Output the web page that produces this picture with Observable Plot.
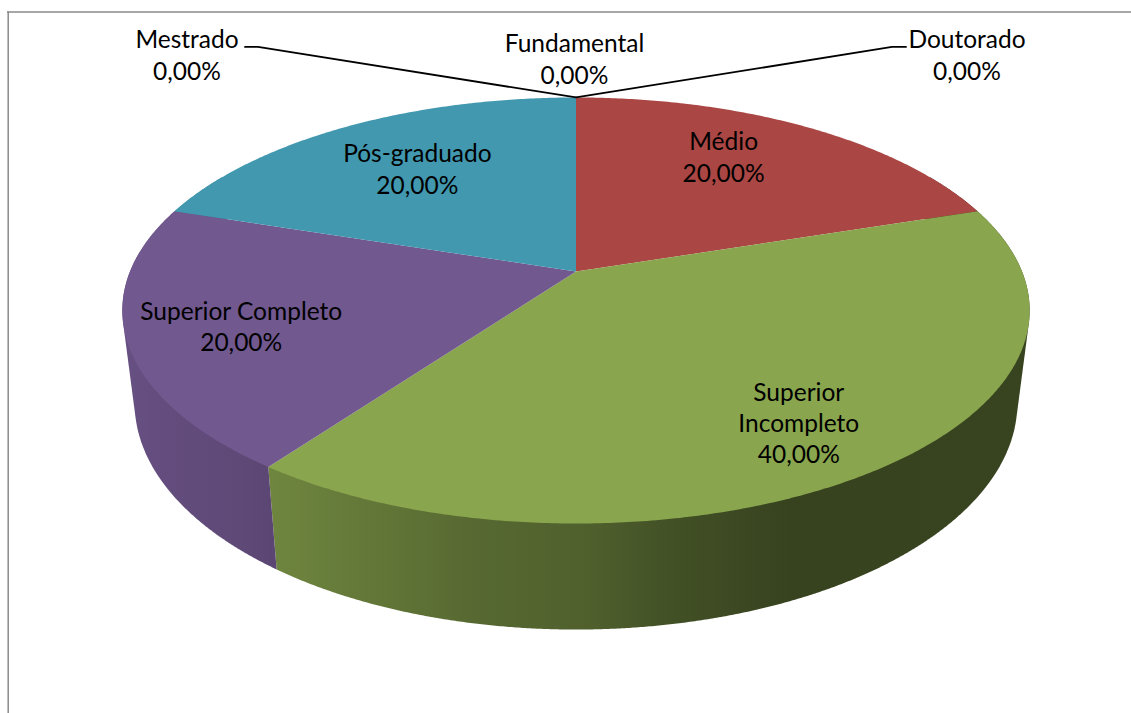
<!DOCTYPE html>
<html lang="pt">
<head>
<meta charset="utf-8">
<style>
  html, body { margin: 0; padding: 0; background: #fff; }
  svg { display: block; }
</style>
<script src="https://cdn.jsdelivr.net/npm/d3@7"></script>
<script src="https://cdn.jsdelivr.net/npm/@observablehq/plot@0.6"></script>
</head>
<body>
<div id="chart"></div>
<script>
// Escolaridade: shares per category, in drawing order clockwise from the top.
const categories = ["Fundamental", "Médio", "Superior\nIncompleto", "Superior Completo", "Pós-graduado", "Mestrado", "Doutorado"];
const shares = [0, 20, 40, 20, 20, 0, 0];
const colors = ["#4572A7", "#AA4643", "#89A54E", "#71588F", "#4198AF", "#DB843D", "#93A9CF"];

// Nudges of each label away from its slice's anchor point, in pixels.
const labelNudgeX = [-1.5, -10, 31, -44, -1, -389, 391];
const labelNudgeY = [-39.5, -15.5, 28.5, 10.5, -3.5, -43.5, -43.5];

// Side-wall shading stops: screen position across the pie, brightness factor.
const shadeAt = [130, 268, 464, 587, 668, 790, 1030];
const shadeBy = [0.90, 0.81, 0.645, 0.58, 0.49, 0.40, 0.41];

// Perspective disc: top face and the smaller, lower rim of the wall.
const topFace = {cx: 575.5, cy: 271, rx: 446, ry: 205.9, p: 0.183};
const lowFace = {cx: 575.5, cy: 361, rx: 433.9, ry: 219, p: 0.183};

function project(face, turnDeg, radius = 1) {
  const a = turnDeg * Math.PI / 180;
  const s = 1 / (1 + face.p * radius * Math.cos(a));
  return [face.cx + face.rx * radius * Math.sin(a) * s, face.cy - face.ry * radius * Math.cos(a) * s];
}

// Cumulative angles from the shares.
const total = d3.sum(shares);
let running = 0;
const slices = categories.map((name, i) => {
  const start = running / total * 360;
  running += shares[i];
  return {name, i, value: shares[i], start, end: running / total * 360, color: colors[i]};
});

// Top face outlines: centre, then the rim from start to end.
const faceRows = slices.filter(d => d.value > 0).flatMap(d => {
  const rows = [{k: d.i, color: d.color, xy: project(topFace, 0, 0)}];
  for (const t of d3.range(d.start, d.end, 0.5).concat(d.end)) rows.push({k: d.i, color: d.color, xy: project(topFace, t)});
  rows.push(rows[0]);
  return rows;
});

// Side wall: convex hull of both rims over the slice's front-facing arc.
// The part of the hull behind the top face is covered when that face is drawn.
const wallSlices = slices.filter(d => d.value > 0 && Math.min(d.end, 300) > Math.max(d.start, 60));
const wallOutline = d => {
  const from = Math.max(d.start, 60), to = Math.min(d.end, 300);
  const turns = d3.range(from, to, 0.25).concat(to);
  const hull = d3.polygonHull(turns.flatMap(t => [project(topFace, t), project(lowFace, t)]));
  return [...hull, hull[0]];
};

// One horizontal gradient per walled slice, darkened from its own colour.
function wallGradients() {
  const svgNS = "http://www.w3.org/2000/svg";
  const defs = document.createElementNS(svgNS, "defs");
  for (const d of wallSlices) {
    const g = document.createElementNS(svgNS, "linearGradient");
    g.setAttribute("id", `wall-${d.i}`);
    g.setAttribute("gradientUnits", "userSpaceOnUse");
    g.setAttribute("x1", shadeAt[0]);
    g.setAttribute("x2", shadeAt[shadeAt.length - 1]);
    g.setAttribute("y1", 0);
    g.setAttribute("y2", 0);
    const base = d3.rgb(d.color);
    shadeAt.forEach((at, j) => {
      const stop = document.createElementNS(svgNS, "stop");
      const f = shadeBy[j];
      stop.setAttribute("offset", (at - shadeAt[0]) / (shadeAt[shadeAt.length - 1] - shadeAt[0]));
      stop.setAttribute("stop-color", d3.rgb(base.r * f, base.g * f, base.b * f).formatHex());
      g.append(stop);
    });
    defs.append(g);
  }
  return defs;
}

// Labels: on the slice for non-empty categories, above the rim for empty ones.
const labelRows = slices.map(d => {
  const mid = (d.start + d.end) / 2;
  const [x, y] = d.value > 0 ? project(topFace, mid, 0.66) : project(topFace, 0);
  return {
    x: x + labelNudgeX[d.i], y: y + labelNudgeY[d.i],
    text: d.name + "\n" + d.value.toFixed(2).replace(".", ",") + "%"
  };
});

// Leader lines for the two empty categories set far from the apex.
const apex = project(topFace, 0);
const leaderRows = [
  {k: "Mestrado", x: apex[0], y: apex[1]},
  {k: "Mestrado", x: apex[0] - 318, y: apex[1] - 50.5},
  {k: "Mestrado", x: apex[0] - 331, y: apex[1] - 50.5},
  {k: "Doutorado", x: apex[0], y: apex[1]},
  {k: "Doutorado", x: apex[0] + 316, y: apex[1] - 50.5},
  {k: "Doutorado", x: apex[0] + 330, y: apex[1] - 50.5}
];

const chart = Plot.plot({
  width: 1131,
  height: 713,
  margin: 0,
  x: {domain: [0, 1131], range: [0, 1131], axis: null},
  y: {domain: [0, 713], range: [0, 713], axis: null},
  style: {background: "#fff"},
  marks: [
    wallGradients,
    Plot.ruleX([7.7], {y1: 11.5, y2: 713, stroke: "#8a8a8a", strokeWidth: 1.5}),
    Plot.ruleY([11.5], {x1: 7, x2: 1131, stroke: "#8a8a8a", strokeWidth: 1.5}),
    wallSlices.map(d => Plot.line(wallOutline(d), {
      x: p => p[0], y: p => p[1],
      fill: `url(#wall-${d.i})`, stroke: null, shapeRendering: "geometricPrecision"
    })),
    Plot.line(faceRows, {
      x: d => d.xy[0], y: d => d.xy[1], z: "k", fill: "color", stroke: null,
      shapeRendering: "geometricPrecision"
    }),
    Plot.line(leaderRows, {x: "x", y: "y", z: "k", stroke: "#000", strokeWidth: 1.8, curve: "linear"}),
    Plot.text(labelRows, {
      x: "x", y: "y", text: "text", fill: "#000", textAnchor: "middle",
      fontFamily: "Lato", fontSize: 24.5, lineHeight: 1.28
    })
  ]
});
document.getElementById("chart").append(chart);
</script>
</body>
</html>
